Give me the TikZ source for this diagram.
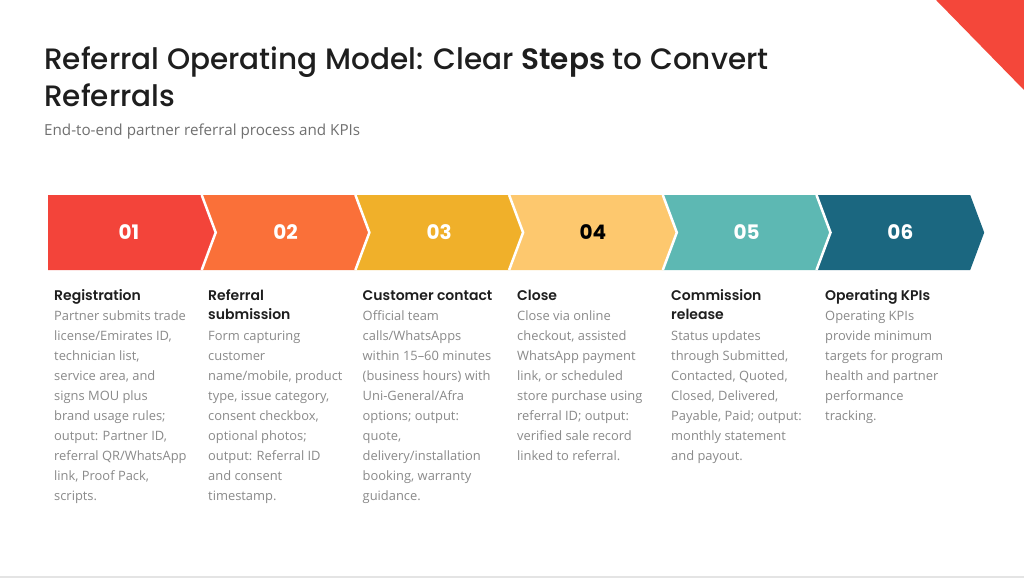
\documentclass[tikz,border=0pt]{standalone}
\usepackage{fontspec}
\setmainfont{Open Sans}
\newfontfamily\titlefont{Poppins Medium}[BoldFont={Poppins SemiBold}]
\newfontfamily\headfont{Poppins SemiBold}
\newfontfamily\numfont{Poppins Bold}
\definecolor{cA}{HTML}{F3443A}
\definecolor{cB}{HTML}{FA7039}
\definecolor{cC}{HTML}{F0B02A}
\definecolor{cD}{HTML}{FDC86E}
\definecolor{cE}{HTML}{5DB8B3}
\definecolor{cF}{HTML}{1B6780}
\definecolor{corner}{HTML}{F4473A}
\definecolor{headc}{HTML}{1E1E1E}
\definecolor{bodyc}{HTML}{8A8A8A}
\definecolor{subc}{HTML}{707070}
\definecolor{rulec}{HTML}{E4E4E4}
\newcommand{\stack}[1]{\begin{tabular}[t]{@{}l@{}}#1\end{tabular}}
\begin{document}
\begin{tikzpicture}[x=1pt,y=-1pt,
  numstyle/.style={font=\numfont\fontsize{20}{22}\selectfont, inner sep=0},
  headstyle/.style={font=\headfont\fontsize{14}{18.3}\selectfont, text=headc, inner sep=0, anchor=base west},
  bodystyle/.style={font=\fontsize{12.9}{20}\selectfont, text=bodyc, inner sep=0, anchor=base west}]
\useasboundingbox (0,0) rectangle (1024,578);
\fill[white] (0,0) rectangle (1024,578);
\fill[corner] (936,0) -- (1024,0) -- (1024,90) -- cycle;
\fill[rulec] (0,576) rectangle (1024,578);
\node[anchor=base west, inner sep=0, font=\titlefont\fontsize{29.5}{36.5}\selectfont, text=headc] (title) at (44,70) {\stack{Referral Operating Model: Clear \textbf{Steps} to Convert\\Referrals}};
\node[anchor=base west, inner sep=0, font=\fontsize{15.2}{18}\selectfont, text=subc] (sub) at (44,135) {End-to-end partner referral process and KPIs};
\foreach \i/\c/\tc/\num in {0/cA/white/01,1/cB/white/02,2/cC/white/03,3/cD/black/04,4/cE/white/05,5/cF/white/06}{
  \pgfmathsetmacro\L{48+153.7*\i}
  \pgfmathsetmacro\R{\L+153.7}
  \ifnum\i=0
    \fill[\c] (\L,195) -- (\R,195) -- (\R+14,232.5) -- (\R,270) -- (\L,270) -- cycle;
    \node[numstyle, text=\tc] (n\num) at ({(\L+\R)/2+4},232.5) {\num};
  \else
    \fill[\c] (\L,195) -- (\R,195) -- (\R+14,232.5) -- (\R,270) -- (\L,270) -- (\L+14,232.5) -- cycle;
    \draw[white, line width=2.5pt] (\L,195) -- (\L+14,232.5) -- (\L,270);
    \node[numstyle, text=\tc] (n\num) at ({(\L+\R)/2+7},232.5) {\num};
  \fi
}
\node[headstyle] (h1) at (54,300.7) {Registration};
\node[bodystyle] (b1) at (54,320.7) {\stack{Partner submits trade\\license/Emirates ID,\\technician list,\\service area, and\\signs MOU plus\\brand usage rules;\\output: Partner ID,\\referral QR/WhatsApp\\link, Proof Pack,\\scripts.}};
\node[headstyle] (h2) at (208,300.7) {\stack{Referral\\submission}};
\node[bodystyle] (b2) at (208,340) {\stack{Form capturing\\customer\\name/mobile, product\\type, issue category,\\consent checkbox,\\optional photos;\\output: Referral ID\\and consent\\timestamp.}};
\node[headstyle] (h3) at (362.5,300.7) {Customer contact};
\node[bodystyle] (b3) at (362.5,320.7) {\stack{Official team\\calls/WhatsApps\\within 15–60 minutes\\(business hours) with\\Uni-General/Afra\\options; output:\\quote,\\delivery/installation\\booking, warranty\\guidance.}};
\node[headstyle] (h4) at (517,300.7) {Close};
\node[bodystyle] (b4) at (517,320.7) {\stack{Close via online\\checkout, assisted\\WhatsApp payment\\link, or scheduled\\store purchase using\\referral ID; output:\\verified sale record\\linked to referral.}};
\node[headstyle] (h5) at (671,300.7) {\stack{Commission\\release}};
\node[bodystyle] (b5) at (671,340) {\stack{Status updates\\through Submitted,\\Contacted, Quoted,\\Closed, Delivered,\\Payable, Paid; output:\\monthly statement\\and payout.}};
\node[headstyle] (h6) at (825,300.7) {Operating KPIs};
\node[bodystyle] (b6) at (825,320.7) {\stack{Operating KPIs\\provide minimum\\targets for program\\health and partner\\performance\\tracking.}};
\end{tikzpicture}
\end{document}
